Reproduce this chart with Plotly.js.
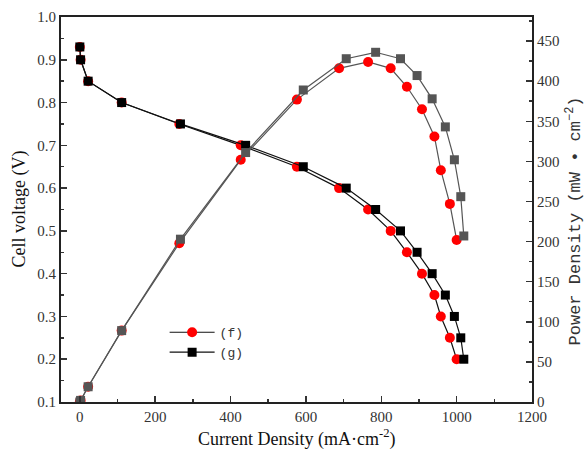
<!DOCTYPE html>
<html>
<head>
<meta charset="utf-8">
<script src="https://cdn.plot.ly/plotly-3.0.1.min.js"></script>
<style>html,body{margin:0;padding:0;background:#fff;}#chart{width:584px;height:450px;}</style>
</head>
<body>
<div id="chart"></div>
<script>
// Current density (mA/cm2)
const currentF = [0, 2, 22, 111, 264, 427, 576, 688, 765, 825, 868, 908, 941, 958, 982, 1000];
const currentG = [0, 2, 22, 111, 267, 440, 593, 707, 785, 851, 895, 935, 970, 994, 1011, 1019];
// Cell voltage (V)
const voltageF = [0.93, 0.90, 0.85, 0.80, 0.75, 0.70, 0.65, 0.60, 0.55, 0.50, 0.45, 0.40, 0.35, 0.30, 0.25, 0.20];
const voltageG = [0.93, 0.90, 0.85, 0.80, 0.75, 0.70, 0.65, 0.60, 0.55, 0.50, 0.45, 0.40, 0.35, 0.30, 0.25, 0.20];
// Power density (mW/cm2)
const powerF = [0, 2, 19, 89, 198, 302, 377, 416, 424, 416, 393, 365, 331, 289, 247, 202];
const powerG = [0, 2, 19, 89, 203, 311, 389, 428, 436, 428, 407, 378, 343, 302, 256, 207];
const seriesNames = ['(f)', '(g)'];
const xTicks = [0, 200, 400, 600, 800, 1000, 1200];
const yTicks = [0.1, 0.2, 0.3, 0.4, 0.5, 0.6, 0.7, 0.8, 0.9, 1.0];
const y2Ticks = [0, 50, 100, 150, 200, 250, 300, 350, 400, 450];

const serif = '"Liberation Serif", "Times New Roman", serif';
const mono = '"Liberation Mono", "Courier New", monospace';

const traces = [
  {x: currentF, y: powerF, yaxis: 'y2', mode: 'lines+markers', showlegend: false,
   line: {color: '#555555', width: 1.2}, marker: {symbol: 'circle', size: 10, color: '#ff0000'}},
  {x: currentG, y: powerG, yaxis: 'y2', mode: 'lines+markers', showlegend: false,
   line: {color: '#555555', width: 1.2}, marker: {symbol: 'square', size: 9, color: '#555555'}},
  {x: currentF, y: voltageF, name: seriesNames[0], mode: 'lines+markers',
   line: {color: '#111111', width: 1.2}, marker: {symbol: 'circle', size: 10, color: '#ff0000'}},
  {x: currentG, y: voltageG, name: seriesNames[1], mode: 'lines+markers',
   line: {color: '#111111', width: 1.2}, marker: {symbol: 'square', size: 9, color: '#000000'}}
];

function axis(extra) {
  return Object.assign({
    showline: true, linecolor: '#222', linewidth: 2, ticks: 'inside', ticklen: 6, tickwidth: 1.5,
    tickcolor: '#333', showgrid: false, zeroline: false,
    tickfont: {family: serif, size: 15, color: '#333'}
  }, extra);
}

const layout = {
  width: 584, height: 450,
  font: {family: serif, size: 15, color: '#333'},
  margin: {l: 61, r: 52, t: 17, b: 48},
  paper_bgcolor: '#fff', plot_bgcolor: '#fff',
  xaxis: axis({
    range: [-50, 1200], tickvals: xTicks, mirror: true,
    minor: {dtick: 100, tick0: 0, ticks: 'inside', ticklen: 3, tickcolor: '#333', tickwidth: 1.5}
  }),
  yaxis: axis({
    range: [0.1, 1.0], tickvals: yTicks, tickformat: '.1f',
    minor: {dtick: 0.05, tick0: 0.1, ticks: 'inside', ticklen: 3, tickcolor: '#333', tickwidth: 1.5}
  }),
  yaxis2: axis({
    range: [0, 480], tickvals: y2Ticks, overlaying: 'y', side: 'right',
    minor: {dtick: 25, tick0: 0, ticks: 'inside', ticklen: 3, tickcolor: '#333', tickwidth: 1.5}
  }),
  showlegend: true,
  legend: {x: 0.22, y: 0.22, xanchor: 'left', yanchor: 'top', bgcolor: 'rgba(0,0,0,0)',
           font: {family: mono, size: 13, color: '#333'}, tracegroupgap: 0, itemwidth: 45},
  annotations: [
    {text: 'Cell voltage (V)', xref: 'paper', yref: 'paper', x: -0.089, y: 0.5,
     xanchor: 'center', yanchor: 'middle', textangle: -90, showarrow: false,
     font: {family: serif, size: 18, color: '#111'}},
    {text: 'Current Density (mA·cm<sup>-2</sup>)', xref: 'paper', yref: 'paper', x: 0.5, y: -0.094,
     xanchor: 'center', yanchor: 'middle', showarrow: false,
     font: {family: serif, size: 18, color: '#111'}},
    {text: 'Power Density (mW • cm<sup>−2</sup>)', xref: 'paper', yref: 'paper', x: 1.09, y: 0.47,
     xanchor: 'center', yanchor: 'middle', textangle: -90, showarrow: false,
     font: {family: mono, size: 17, color: '#333'}}
  ]
};

Plotly.newPlot('chart', traces, layout, {displayModeBar: false, staticPlot: true});
</script>
</body>
</html>
